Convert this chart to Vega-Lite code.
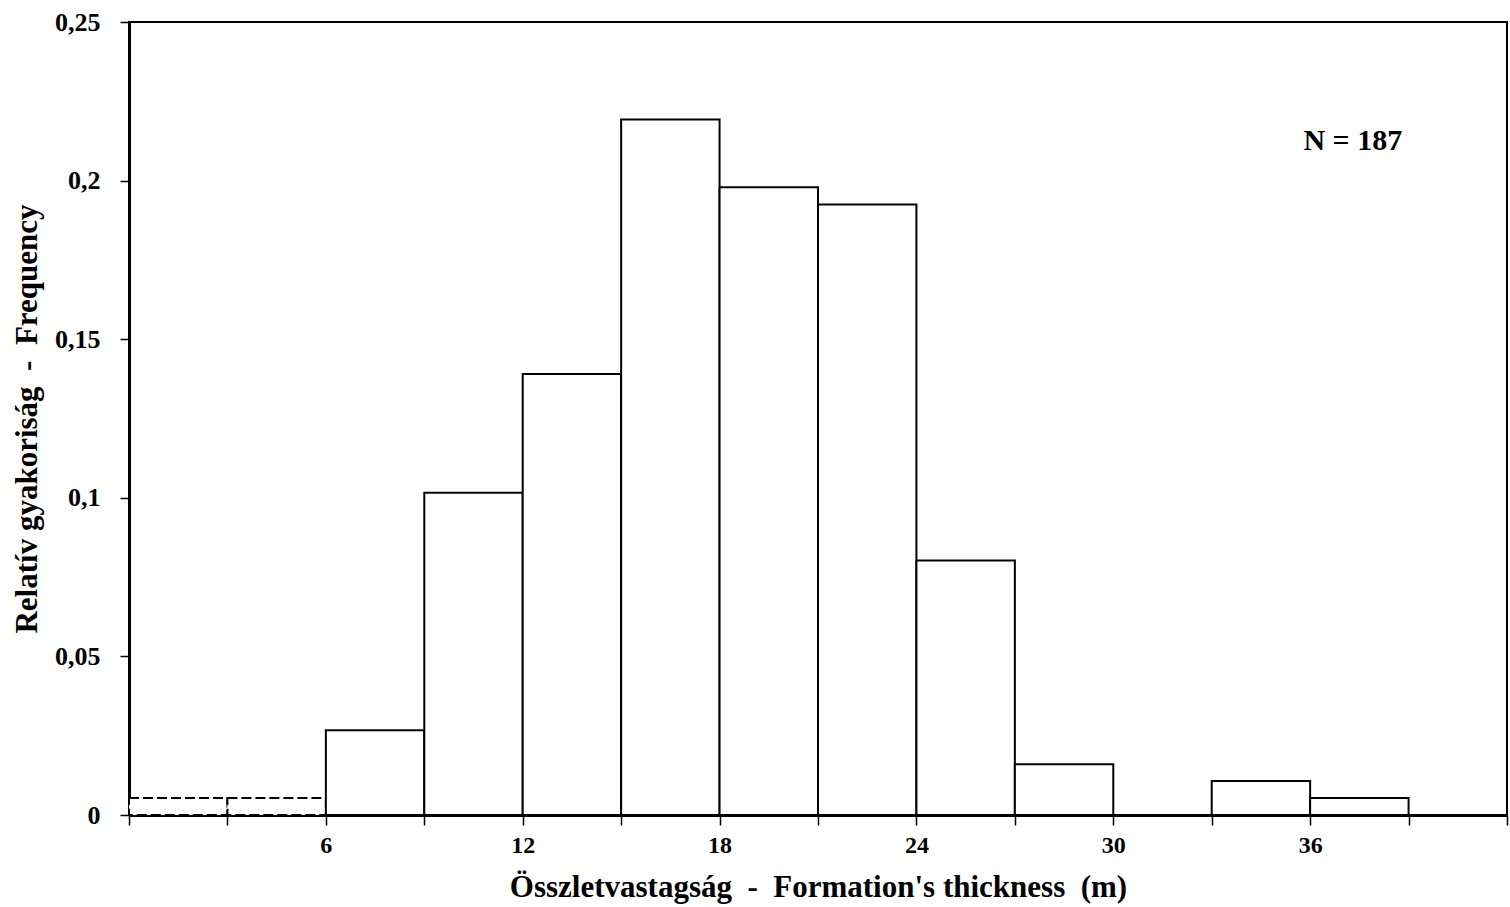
{
  "$schema": "https://vega.github.io/schema/vega-lite/v6.json",
  "autosize": {"type": "none"},
  "width": 1378,
  "height": 793,
  "padding": {"left": 129, "top": 22, "right": 3, "bottom": 92},
  "background": "white",
  "config": {
    "view": {"stroke": "black", "strokeWidth": 2},
    "font": "Liberation Serif"
  },
  "layer": [
    {
      "data": {
        "values": [
          {"x0": 0, "x1": 3, "freq": 0.00535},
          {"x0": 3, "x1": 6, "freq": 0.00535},
          {"x0": 6, "x1": 9, "freq": 0.0267},
          {"x0": 9, "x1": 12, "freq": 0.1016},
          {"x0": 12, "x1": 15, "freq": 0.139},
          {"x0": 15, "x1": 18, "freq": 0.2193},
          {"x0": 18, "x1": 21, "freq": 0.1979},
          {"x0": 21, "x1": 24, "freq": 0.1925},
          {"x0": 24, "x1": 27, "freq": 0.0802},
          {"x0": 27, "x1": 30, "freq": 0.016},
          {"x0": 30, "x1": 33, "freq": 0},
          {"x0": 33, "x1": 36, "freq": 0.0107},
          {"x0": 36, "x1": 39, "freq": 0.00535}
        ]
      },
      "mark": {"type": "bar", "fill": "white", "stroke": "black", "strokeWidth": 2},
      "encoding": {
        "x": {
          "field": "x0",
          "type": "quantitative",
          "scale": {"domain": [0, 42], "nice": false, "zero": false},
          "axis": {
            "values": [0, 3, 6, 9, 12, 15, 18, 21, 24, 27, 30, 33, 36, 39, 42],
            "labelExpr": "(datum.value % 6 == 0 && datum.value > 0 && datum.value < 42) ? datum.value : ''",
            "title": "Összletvastagság \u00a0-\u00a0 Formation's thickness \u00a0(m)",
            "titleFont": "Liberation Serif",
            "titleFontSize": 31,
            "titleFontWeight": "bold",
            "titleColor": "black",
            "titlePadding": 15,
            "labelFont": "Liberation Serif",
            "labelFontSize": 24,
            "labelFontWeight": "bold",
            "labelColor": "black",
            "labelPadding": 8,
            "tickSize": 10,
            "tickColor": "black",
            "tickWidth": 1.5,
            "domainColor": "black",
            "domainWidth": 3,
            "grid": false
          }
        },
        "x2": {"field": "x1"},
        "y": {
          "field": "freq",
          "type": "quantitative",
          "scale": {"domain": [0, 0.25], "nice": false},
          "axis": {
            "values": [0, 0.05, 0.1, 0.15, 0.2, 0.25],
            "labelExpr": "replace(toString(datum.value), '.', ',')",
            "title": "Relatív gyakoriság \u00a0-\u00a0 Frequency",
            "titleFont": "Liberation Serif",
            "titleFontSize": 31,
            "titleFontWeight": "bold",
            "titleColor": "black",
            "titlePadding": 11,
            "labelFont": "Liberation Serif",
            "labelFontSize": 26,
            "labelFontWeight": "bold",
            "labelColor": "black",
            "labelPadding": 20,
            "tickSize": 9,
            "tickColor": "black",
            "tickWidth": 1.5,
            "domainColor": "black",
            "domainWidth": 3,
            "grid": false
          }
        },
        "y2": {"datum": 0},
        "strokeDash": {
          "condition": {"test": "datum.x0 < 6", "value": [10, 4]},
          "value": [1, 0]
        }
      }
    },
    {
      "data": {"values": [{"label": "N = 187", "x": 37.3, "y": 0.2125}]},
      "mark": {"type": "text", "font": "Liberation Serif", "fontSize": 30, "fontWeight": "bold", "color": "black", "align": "center", "baseline": "middle"},
      "encoding": {
        "x": {"field": "x", "type": "quantitative"},
        "y": {"field": "y", "type": "quantitative"},
        "text": {"field": "label"}
      }
    }
  ]
}
